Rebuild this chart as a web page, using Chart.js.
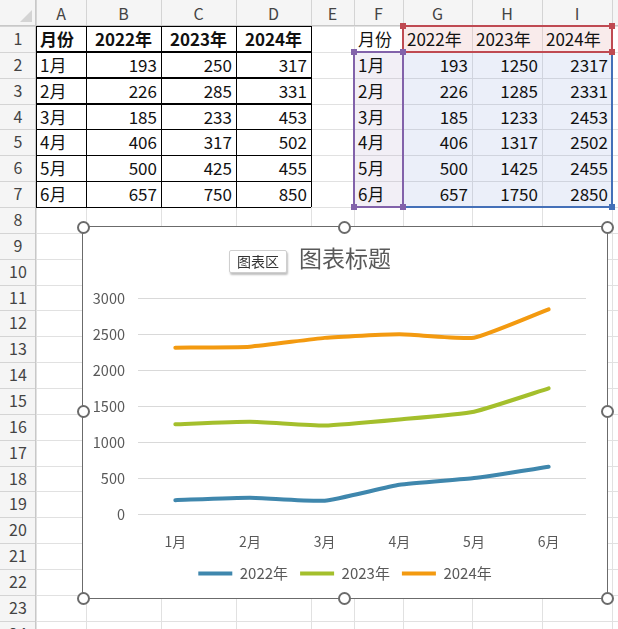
<!DOCTYPE html>
<html>
<head>
<meta charset="utf-8">
<script src="https://cdn.jsdelivr.net/npm/chart.js@4.4.1/dist/chart.umd.min.js"></script>
<style>
html, body { margin: 0; padding: 0; background: #fff; }
body { width: 618px; height: 629px; overflow: hidden; position: relative; font-family: "Noto Sans CJK SC", "Noto Sans", sans-serif; }
.abs { position: absolute; box-sizing: border-box; }
.hdr { background: #f5f5f5; color: #444; font-size: 16px; text-align: center; }
.cell { font-size: 17px; color: #111; white-space: nowrap; padding: 0 4px; }
.handle { position: absolute; width: 13px; height: 13px; margin: -6.5px 0 0 -6.5px; border: 2px solid #6b6b6b; border-radius: 50%; background: #fff; box-sizing: border-box; }
#tip { position: absolute; left: 229px; top: 250px; width: 58px; height: 23px; border: 1px solid #cfcfcf; background: #fff; box-shadow: 1px 2px 2px rgba(0,0,0,0.25); font-size: 14px; color: #333; text-align: center; line-height: 21px; border-radius: 2px; box-sizing: border-box; }
#chartBox { position: absolute; left: 83px; top: 227px; width: 524px; height: 371px; background: #fff; }
#chartBorder { position: absolute; left: 82px; top: 226px; width: 526px; height: 373px; border: 1.5px solid #6b6b6b; box-sizing: border-box; }
</style>
</head>
<body>
<div id="sheet"></div>
<div id="chartBox"><canvas id="lineChart"></canvas></div>
<div id="chartBorder"></div>
<div id="handles"></div>
<div id="tip">图表区</div>
<script>
"use strict";
// table / chart data
const months = ['1月', '2月', '3月', '4月', '5月', '6月'];
const years = ['2022年', '2023年', '2024年'];
const left2022 = [193, 226, 185, 406, 500, 657];
const left2023 = [250, 285, 233, 317, 425, 750];
const left2024 = [317, 331, 453, 502, 455, 850];
const sales2022 = [193, 226, 185, 406, 500, 657];
const sales2023 = [1250, 1285, 1233, 1317, 1425, 1750];
const sales2024 = [2317, 2331, 2453, 2502, 2455, 2850];
const yMin = 0;
const yMax = 3000;
const yStep = 500;
const lineColors = ['#3f87ad', '#a4bf2c', '#f39a10'];

// sheet geometry
const colX = [0, 36, 86, 161, 236, 311, 354, 403, 472, 542, 612, 690];
const colNames = ['A', 'B', 'C', 'D', 'E', 'F', 'G', 'H', 'I', 'J'];
const headH = 26;
const rowH = 25.86;
const sheet = document.getElementById('sheet');

function rowY(r) {
    return headH + (r - 1) * rowH;
}

function box(x, y, w, h, css, text) {
    const d = document.createElement('div');
    d.className = 'abs';
    d.style.cssText = `left:${x}px;top:${y}px;width:${w}px;height:${h}px;${css || ''}`;
    if (text !== undefined) d.textContent = text;
    sheet.appendChild(d);
    return d;
}

function cell(c, r, text, align, bold) {
    const d = box(colX[c], rowY(r), colX[c + 1] - colX[c], rowH,
        `line-height:${rowH}px;text-align:${align};${bold ? 'font-weight:bold;' : ''}`, text);
    d.classList.add('cell');
}

// headers
box(0, 0, 618, headH, 'background:#f5f5f5;');
box(0, 0, colX[1], 629, 'background:#f5f5f5;');
box(20, 10, 0, 0, 'border-left:12px solid transparent;border-bottom:12px solid #d4d4d4;');
for (let i = 0; i < colNames.length; i++) {
    const d = box(colX[i + 1], 0, colX[i + 2] - colX[i + 1], headH, `line-height:${headH}px;`, colNames[i]);
    d.classList.add('hdr');
}
for (let r = 1; r <= 24; r++) {
    const d = box(0, rowY(r), colX[1], rowH, `line-height:${rowH}px;`, String(r));
    d.classList.add('hdr');
}

// gridlines
for (let i = 1; i < colX.length; i++) {
    box(colX[i], 0, 1, headH, 'background:#d4d4d4;');
    box(colX[i], headH, 1, 629 - headH, 'background:#e1e1e1;');
}
for (let r = 1; r <= 25; r++) {
    box(0, rowY(r), colX[1], 1, 'background:#d4d4d4;');
    box(colX[1], rowY(r), 618 - colX[1], 1, 'background:#e1e1e1;');
}
box(0, headH - 1, 618, 1, 'background:#c8c8c8;');
box(colX[1] - 1, 0, 1, 629, 'background:#c8c8c8;');

// highlighted source ranges (behind text)
box(colX[6], rowY(2), colX[7] - colX[6], rowY(8) - rowY(2), 'background:rgba(128,100,170,0.10);');
box(colX[7], rowY(1), colX[10] - colX[7], rowH, 'background:rgba(200,70,70,0.11);');
box(colX[7], rowY(2), colX[10] - colX[7], rowY(8) - rowY(2), 'background:rgba(70,110,200,0.11);');

// left table
cell(1, 1, '月份', 'left', true);
years.forEach((y, i) => cell(2 + i, 1, y, 'center', true));
months.forEach((m, i) => {
    cell(1, i + 2, m, 'left');
    cell(2, i + 2, left2022[i], 'right');
    cell(3, i + 2, left2023[i], 'right');
    cell(4, i + 2, left2024[i], 'right');
});
for (let i = 1; i <= 5; i++) {
    box(colX[i] - 0.5, rowY(1), 1.5, rowY(8) - rowY(1), 'background:#000;');
}
for (let r = 1; r <= 8; r++) {
    box(colX[1], rowY(r) - 0.5, colX[5] - colX[1], 1.5, 'background:#000;');
}

// right table
cell(6, 1, '月份', 'left');
years.forEach((y, i) => cell(7 + i, 1, y, 'left'));
months.forEach((m, i) => {
    cell(6, i + 2, m, 'left');
    cell(7, i + 2, sales2022[i], 'right');
    cell(8, i + 2, sales2023[i], 'right');
    cell(9, i + 2, sales2024[i], 'right');
});

function rangeBorder(x1, y1, x2, y2, color) {
    box(x1 - 1, y1 - 1, x2 - x1 + 2, y2 - y1 + 2, `border:2px solid ${color};`);
    [[x1, y1], [x2, y1], [x1, y2], [x2, y2]].forEach(p => {
        box(p[0] - 3, p[1] - 3, 6, 6, `background:${color};`);
    });
}
rangeBorder(colX[7], rowY(2), colX[10], rowY(8), '#4470b8');
rangeBorder(colX[7], rowY(1), colX[10], rowY(2), '#bf4a52');
rangeBorder(colX[6], rowY(2), colX[7], rowY(8), '#8262aa');

// chart handles
const handles = document.getElementById('handles');
[[83, 227], [344, 227], [607, 227], [83, 411], [607, 411], [83, 598], [344, 598], [607, 598]].forEach(p => {
    const h = document.createElement('div');
    h.className = 'handle';
    h.style.left = p[0] + 'px';
    h.style.top = p[1] + 'px';
    handles.appendChild(h);
});

// chart
const fontFamily = '"Noto Sans CJK SC", "Noto Sans", sans-serif';
const textColor = '#595959';
const seriesData = [sales2022, sales2023, sales2024];

new Chart(document.getElementById('lineChart'), {
    type: 'line',
    data: {
        labels: months,
        datasets: years.map((y, i) => ({
            label: y,
            data: seriesData[i],
            borderColor: lineColors[i],
            backgroundColor: lineColors[i],
            borderWidth: 4,
            borderCapStyle: 'round',
            borderJoinStyle: 'round',
            pointRadius: 0,
            pointHoverRadius: 0,
            tension: 0.15,
            fill: false
        }))
    },
    options: {
        responsive: true,
        maintainAspectRatio: false,
        animation: false,
        layout: { padding: { left: 0, right: 0, top: 0, bottom: 7 } },
        plugins: {
            title: {
                display: true,
                text: '图表标题',
                color: textColor,
                font: { family: fontFamily, size: 23, weight: 'normal' },
                padding: { top: 17, bottom: 27 }
            },
            legend: {
                position: 'bottom',
                labels: {
                    color: textColor,
                    font: { family: fontFamily, size: 15 },
                    usePointStyle: true,
                    pointStyle: 'line',
                    pointStyleWidth: 34,
                    boxHeight: 14,
                    padding: 12
                }
            },
            tooltip: { enabled: false }
        },
        scales: {
            x: {
                offset: true,
                grid: { display: false },
                border: { display: false },
                ticks: { color: textColor, font: { family: fontFamily, size: 14 }, padding: 11 },
                afterFit: function (scale) { scale.height = 40; }
            },
            y: {
                min: yMin,
                max: yMax,
                grid: { color: '#d9d9d9', lineWidth: 1, drawTicks: false },
                border: { display: false },
                ticks: {
                    stepSize: yStep,
                    format: { useGrouping: false },
                    color: textColor,
                    font: { family: fontFamily, size: 14.5 },
                    padding: 13
                },
                afterFit: function (scale) { scale.width = 55; }
            },
            // empty right margin so title and legend centre on the whole chart area box
            yRight: {
                position: 'right',
                grid: { display: false },
                border: { display: false },
                ticks: { display: false },
                afterFit: function (scale) { scale.width = 21; }
            }
        }
    }
});
</script>
</body>
</html>
